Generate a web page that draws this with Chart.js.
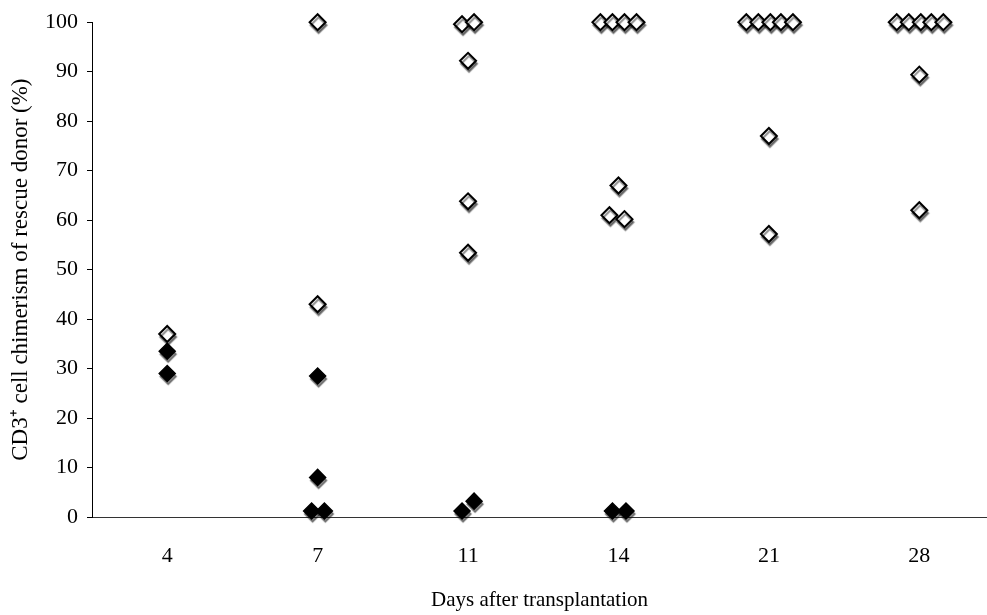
<!DOCTYPE html>
<html>
<head>
<meta charset="utf-8">
<script src="https://cdn.jsdelivr.net/npm/chart.js@4.4.1/dist/chart.umd.min.js"></script>
<style>
  body { margin: 0; background: #fff; }
</style>
</head>
<body>
<canvas id="grafico" width="987" height="615"></canvas>
<script>
// days shown on the x axis (one category each)
var days = ["4", "7", "11", "14", "21", "28"];

// open diamonds: x = category position (small spread inside a day), y = %
var openX = [0, 1, 1, 1.96, 2.04, 2, 2, 2, 2.88, 2.96, 3.04, 3.12, 3.0, 2.94, 3.04,
  3.85, 3.93, 4.01, 4.08, 4.16, 4, 4, 4.85, 4.93, 5.01, 5.08, 5.16, 5, 5];
var openY = [37, 100, 43, 99.6, 100, 92.2, 63.8, 53.4, 100, 100, 100, 100, 67, 61, 60.2,
  100, 100, 100, 100, 100, 77, 57.2, 100, 100, 100, 100, 100, 89.4, 62];

// filled diamonds
var filledX = [0, 0, 1, 1, 0.96, 1.045, 1.96, 2.04, 2.96, 3.05];
var filledY = [33.5, 29, 28.5, 8, 1.2, 1.2, 1.2, 3.2, 1.2, 1.2];

function pontos(xs, ys) {
  return xs.map(function (x, i) { return { x: x, y: ys[i] }; });
}

var fonte = "'Liberation Serif', 'Times New Roman', serif";

// gray drop shadow under the markers, like the scanned figure
var sombra = {
  id: "sombra",
  beforeDatasetsDraw: function (chart) {
    var ctx = chart.ctx;
    ctx.save();
    ctx.shadowColor = "rgba(0,0,0,0.45)";
    ctx.shadowOffsetX = 1;
    ctx.shadowOffsetY = 3;
    ctx.shadowBlur = 1;
  },
  afterDatasetsDraw: function (chart) {
    chart.ctx.restore();
  }
};

const ctx = document.getElementById("grafico").getContext("2d");

const grafico = new Chart(ctx, {
  type: "scatter",
  data: {
    datasets: [
      {
        label: "filled",
        data: pontos(filledX, filledY),
        clip: false,
        pointStyle: "rectRot",
        pointRadius: 8,
        pointBorderWidth: 1.5,
        borderColor: "#000",
        backgroundColor: "#000"
      },
      {
        label: "open",
        data: pontos(openX, openY),
        clip: false,
        pointStyle: "rectRot",
        pointRadius: 8,
        pointBorderWidth: 2,
        borderColor: "#000",
        backgroundColor: "#fff"
      }
    ]
  },
  options: {
    responsive: false,
    animation: false,
    layout: { autoPadding: false, padding: { top: 19, right: 0, left: 0, bottom: 0 } },
    plugins: {
      legend: { display: false },
      tooltip: { enabled: false }
    },
    scales: {
      x: {
        type: "linear",
        min: -0.5,
        max: 5.45,
        afterBuildTicks: function (scale) {
          scale.ticks = days.map(function (d, i) { return { value: i }; });
        },
        afterFit: function (scale) {
          scale.height = 98;
          scale.paddingLeft = 0;
          scale.paddingRight = 0;
        },
        grid: { display: false, drawTicks: false },
        border: { display: true, color: "#333", width: 1 },
        ticks: {
          autoSkip: false,
          maxRotation: 0,
          padding: 26,
          color: "#000",
          font: { family: fonte, size: 22 },
          callback: function (v) { return days[v]; }
        },
        title: {
          display: true,
          text: "Days after transplantation",
          color: "#000",
          font: { family: fonte, size: 21 },
          padding: { top: 0, bottom: 2 }
        }
      },
      y: {
        min: 0,
        max: 100,
        afterFit: function (scale) { scale.width = 92; },
        grid: { drawOnChartArea: false, drawTicks: true, tickLength: 5, color: "#000" },
        border: { display: true, color: "#000", width: 1 },
        ticks: {
          stepSize: 10,
          padding: 9,
          color: "#000",
          font: { family: fonte, size: 22 }
        },
        title: {
          display: true,
          text: "CD3\u207A cell chimerism of rescue donor (%)",
          color: "#000",
          font: { family: fonte, size: 23 },
          padding: { top: 7, bottom: 0 }
        }
      }
    }
  },
  plugins: [sombra]
});
</script>
</body>
</html>
